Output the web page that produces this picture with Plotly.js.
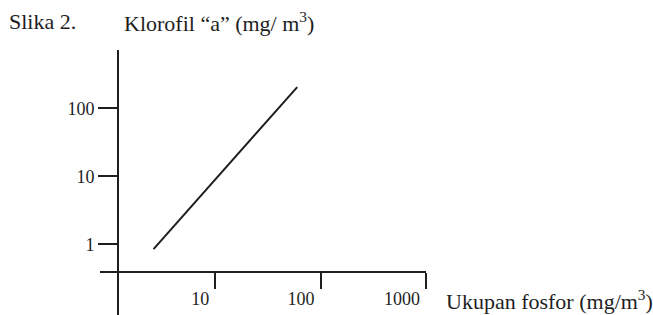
<!DOCTYPE html>
<html>
<head>
<meta charset="utf-8">
<script src="https://cdn.plot.ly/plotly-3.0.1.min.js"></script>
<style>html,body{margin:0;padding:0;background:#fff;}#chart{width:653px;height:315px;}</style>
</head>
<body>
<div id="chart"></div>
<script>
// Data
const phosphorus = [2.6, 60];          // Ukupan fosfor (mg/m3)
const chlorophyll = [0.85, 205];       // Klorofil "a" (mg/m3)
const xTickVals = [10, 100, 1000];
const xTickText = ['10', '100', '1000'];
const yTickVals = [1, 10, 100];
const yTickText = ['1', '10', '100'];

const W = 653, H = 315;
const ink = '#1e1e1e';
const serif = 'Liberation Serif, Times New Roman, serif';

const trace = {
  x: phosphorus, y: chlorophyll, type: 'scatter', mode: 'lines',
  line: {color: ink, width: 2}, hoverinfo: 'skip', showlegend: false
};

const layout = {
  width: W, height: H,
  margin: {l: 0, r: 0, t: 0, b: 0},
  paper_bgcolor: '#fff', plot_bgcolor: 'rgba(0,0,0,0)',
  font: {family: serif, color: ink, size: 18},
  xaxis: {
    type: 'log', domain: [100 / W, 426 / W], range: [-0.093, 3],
    anchor: 'free', position: (H - 272) / H,
    showline: true, linewidth: 2, linecolor: ink,
    showgrid: false, zeroline: false,
    ticks: 'outside', ticklen: 16, tickwidth: 2, tickcolor: ink,
    tickvals: xTickVals, ticktext: xTickText,
    ticklabelposition: 'outside left', ticklabelshift: -4, ticklabelstandoff: 10,
    tickfont: {family: serif, size: 18, color: ink},
    automargin: false, fixedrange: true
  },
  yaxis: {
    type: 'log', domain: [0, 1 - 50 / H], range: [-1.04, 2.857],
    anchor: 'free', position: 118 / W,
    showline: true, linewidth: 2, linecolor: ink,
    showgrid: false, zeroline: false,
    ticks: 'outside', ticklen: 19, tickwidth: 2, tickcolor: ink,
    tickvals: yTickVals, ticktext: yTickText,
    tickfont: {family: serif, size: 18, color: ink},
    automargin: false, fixedrange: true
  },
  annotations: [
    {text: 'Slika 2.', xref: 'paper', yref: 'paper', x: 7 / W, y: 1 - 22 / H,
     xanchor: 'left', yanchor: 'middle', showarrow: false,
     font: {family: serif, size: 22, color: ink}},
    {text: 'Klorofil \u201ca\u201d (mg/ m<sup>3</sup>)', xref: 'paper', yref: 'paper', x: 122 / W, y: 1 - 22 / H,
     xanchor: 'left', yanchor: 'middle', showarrow: false,
     font: {family: serif, size: 22, color: ink}},
    {text: 'Ukupan fosfor (mg/m<sup>3</sup>)', xref: 'paper', yref: 'paper', x: 444 / W, y: 1 - 300 / H,
     xanchor: 'left', yanchor: 'middle', showarrow: false,
     font: {family: serif, size: 22, color: ink}}
  ]
};

Plotly.newPlot('chart', [trace], layout, {displayModeBar: false, staticPlot: true});
</script>
</body>
</html>
